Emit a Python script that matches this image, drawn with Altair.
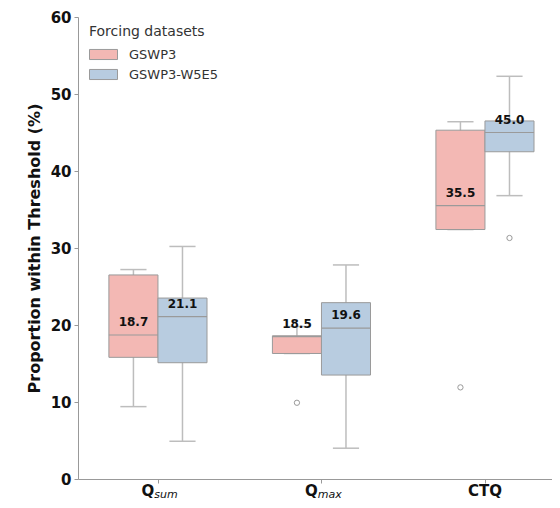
import altair as alt
import pandas as pd

categories = ["Qsum", "Qmax", "CTQ"]
datasets = ["GSWP3", "GSWP3-W5E5"]

# box statistics (category order)
gswp3_low = [9.4, 16.3, 32.4]
gswp3_q1 = [15.8, 16.3, 32.4]
gswp3_med = [18.7, 18.5, 35.5]
gswp3_q3 = [26.5, 18.6, 45.3]
gswp3_high = [27.2, 19.8, 46.4]
gswp3_out = [[], [9.9], [11.9]]

w5e5_low = [4.9, 4.0, 36.8]
w5e5_q1 = [15.1, 13.5, 42.5]
w5e5_med = [21.1, 19.6, 45.0]
w5e5_q3 = [23.5, 22.9, 46.5]
w5e5_high = [30.2, 27.8, 52.3]
w5e5_out = [[], [], [31.3]]

label_main = ["Q", "Q", "CTQ"]
label_sub = ["sum", "max", ""]

colors = ["#f3b8b4", "#b8cce0"]

W, H = 474, 462
BOXW = 0.3
CAP = 0.08
FONT = "DejaVu Sans"

stats = [
    (gswp3_low, gswp3_q1, gswp3_med, gswp3_q3, gswp3_high, gswp3_out),
    (w5e5_low, w5e5_q1, w5e5_med, w5e5_q3, w5e5_high, w5e5_out),
]
rows, outs = [], []
for d, ds in enumerate(datasets):
    lo, q1, md, q3, hi, ou = stats[d]
    for i, c in enumerate(categories):
        xl = i - BOXW if d == 0 else i
        xr = i if d == 0 else i + BOXW
        xc = (xl + xr) / 2
        rows.append(dict(cat=c, ds=ds, lo=lo[i], q1=q1[i], med=md[i], q3=q3[i], hi=hi[i],
                         xl=xl, xr=xr, xc=xc, cl=xc - CAP, cr=xc + CAP,
                         lab=f"{md[i]:.1f}"))
        for v in ou[i]:
            outs.append(dict(cat=c, ds=ds, v=v, xc=xc))
df = pd.DataFrame(rows)
odf = pd.DataFrame(outs)

xs = alt.Scale(domain=[-0.489, 2.41], nice=False, zero=False)
ys = alt.Scale(domain=[0, 60], nice=False)
xaxis = alt.Axis(values=[0, 1, 2], labels=False, title=None, grid=False,
                 domainColor="#999999", tickColor="#999999", tickSize=4)
yaxis = alt.Axis(values=[0, 10, 20, 30, 40, 50, 60], grid=False,
                 title="Proportion within Threshold (%)",
                 labelFont=FONT, labelFontSize=15, labelFontWeight="bold", labelColor="#111111",
                 titleFont=FONT, titleFontSize=16, titleFontWeight="bold", titleColor="#111111",
                 domainColor="#999999", tickColor="#999999", tickSize=4, labelPadding=3,
                 titlePadding=8)

base = alt.Chart(df)
whisk = base.mark_rule(color="#bdbdbd", strokeWidth=1.5).encode(
    x=alt.X("xc:Q", scale=xs, axis=xaxis), y=alt.Y("lo:Q", scale=ys, axis=yaxis), y2="hi:Q")
cap_lo = base.mark_rule(color="#bdbdbd", strokeWidth=1.5).encode(
    x=alt.X("cl:Q", scale=xs), x2="cr:Q", y=alt.Y("lo:Q", scale=ys))
cap_hi = base.mark_rule(color="#bdbdbd", strokeWidth=1.5).encode(
    x=alt.X("cl:Q", scale=xs), x2="cr:Q", y=alt.Y("hi:Q", scale=ys))
box = base.mark_bar(stroke="#9a9a9a", strokeWidth=1, opacity=1).encode(
    x=alt.X("xl:Q", scale=xs), x2="xr:Q", y=alt.Y("q1:Q", scale=ys), y2="q3:Q",
    color=alt.Color("ds:N", scale=alt.Scale(domain=datasets, range=colors),
                    legend=alt.Legend(title="Forcing datasets", orient="none",
                                      legendX=11, legendY=8,
                                      symbolType="M-1,-0.72H3V0.72H-1Z", symbolSize=196,
                                      symbolStrokeColor="#9a9a9a", symbolStrokeWidth=1,
                                      symbolOpacity=1,
                                      titleFont=FONT, titleFontSize=14, titleFontWeight="normal",
                                      titleColor="#333333", titlePadding=8,
                                      labelFont=FONT, labelFontSize=13, labelColor="#333333",
                                      labelOffset=25, rowPadding=5)))
median = base.mark_rule(color="#9a9a9a", strokeWidth=1.2).encode(
    x=alt.X("xl:Q", scale=xs), x2="xr:Q", y=alt.Y("med:Q", scale=ys))
outl = alt.Chart(odf).mark_point(shape="circle", filled=False, color="#9a9a9a", size=28,
                                 strokeWidth=1, opacity=1).encode(
    x=alt.X("xc:Q", scale=xs), y=alt.Y("v:Q", scale=ys))
txt = base.mark_text(font=FONT, fontSize=12, fontWeight="bold", color="#111111",
                     baseline="middle", dy=-13).encode(
    x=alt.X("xc:Q", scale=xs), y=alt.Y("med:Q", scale=ys), text="lab:N")

ldf = pd.DataFrame(dict(idx=list(range(len(categories))), main=label_main, sub=label_sub))
ldf["xq"] = ldf["idx"] - 0.022
sub_df = ldf[ldf["sub"] != ""]
plain_df = ldf[ldf["sub"] == ""]
lab_q = alt.Chart(sub_df).mark_text(font=FONT, fontSize=15, fontWeight="bold", color="#111111",
                                    align="right", baseline="middle").encode(
    x=alt.X("xq:Q", scale=xs), y=alt.value(H + 12), text="main:N")
lab_s = alt.Chart(sub_df).mark_text(font=FONT, fontSize=11, fontStyle="italic", color="#111111",
                                    align="left", baseline="middle").encode(
    x=alt.X("xq:Q", scale=xs), y=alt.value(H + 16), text="sub:N")
lab_p = alt.Chart(plain_df).mark_text(font=FONT, fontSize=15, fontWeight="bold", color="#111111",
                                      align="center", baseline="middle").encode(
    x=alt.X("idx:Q", scale=xs), y=alt.value(H + 12), text="main:N")

chart = alt.layer(whisk, cap_lo, cap_hi, box, median, outl, txt, lab_q, lab_s, lab_p).properties(
    width=W, height=H,
    autosize=alt.AutoSizeParams(type="none"),
    padding={"left": 70, "top": 9, "right": 0, "bottom": 21},
).configure_view(stroke=None).configure_axis(labelFont=FONT, titleFont=FONT)

chart.save("out.html", embed_options={"renderer": "svg", "actions": False})
